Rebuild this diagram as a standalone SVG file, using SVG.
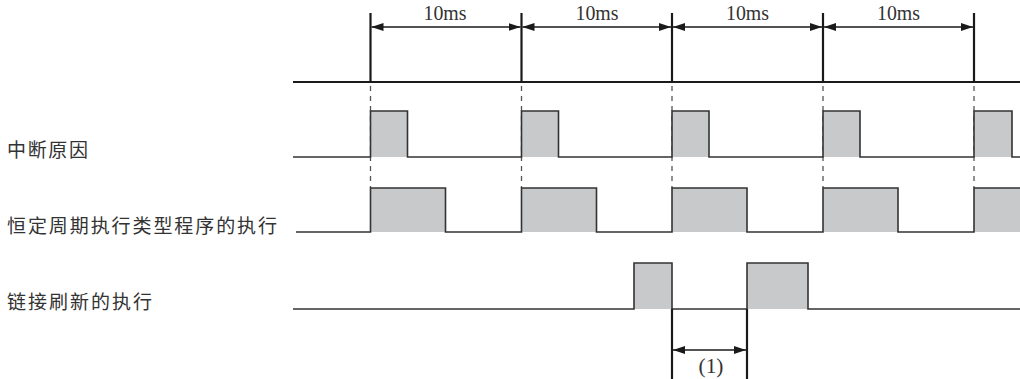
<svg xmlns="http://www.w3.org/2000/svg" width="1020" height="379" viewBox="0 0 1020 379">
<style>
.lbl{font-family:"Noto Sans CJK SC","Noto Sans",sans-serif;font-size:19px;fill:#333}
.dim{font-family:"Liberation Serif",serif;font-size:20px;fill:#333}
.thick{stroke:#1a1a1a;stroke-width:2.2;fill:none}
.wave{stroke:#333;stroke-width:1.6;fill:none}
.pf{fill:#c8c9cb;stroke:none}
.dash{stroke:#555;stroke-width:1.3;stroke-dasharray:5,5;fill:none}
.arr{stroke:#1a1a1a;stroke-width:1.3;fill:none;marker-start:url(#ah);marker-end:url(#ah)}
</style>
<defs>
<marker id="ah" viewBox="0 0 12 8" refX="12" refY="4" markerWidth="12" markerHeight="8" markerUnits="userSpaceOnUse" orient="auto-start-reverse">
<path d="M0,0 L12,4 L0,8 Z" fill="#1a1a1a"/>
</marker>
</defs>
<rect width="1020" height="379" fill="#fff"/>

<g id="timebase">
<line class="thick" x1="293" y1="82" x2="1020" y2="82"/>
<line class="thick" x1="370.5" y1="13" x2="370.5" y2="82"/>
<line class="thick" x1="521.5" y1="13" x2="521.5" y2="82"/>
<line class="thick" x1="672" y1="13" x2="672" y2="82"/>
<line class="thick" x1="823" y1="13" x2="823" y2="82"/>
<line class="thick" x1="974" y1="13" x2="974" y2="82"/>
<text class="dim" x="445" y="20" text-anchor="middle" textLength="43" lengthAdjust="spacingAndGlyphs">10ms</text>
<text class="dim" x="597" y="20" text-anchor="middle" textLength="43" lengthAdjust="spacingAndGlyphs">10ms</text>
<text class="dim" x="747.5" y="20" text-anchor="middle" textLength="43" lengthAdjust="spacingAndGlyphs">10ms</text>
<text class="dim" x="898.5" y="20" text-anchor="middle" textLength="43" lengthAdjust="spacingAndGlyphs">10ms</text>
</g>

<g id="guides">
<line class="dash" x1="370.5" y1="86" x2="370.5" y2="188"/>
<line class="dash" x1="521.5" y1="86" x2="521.5" y2="188"/>
<line class="dash" x1="672" y1="86" x2="672" y2="188"/>
<line class="dash" x1="823" y1="86" x2="823" y2="188"/>
<line class="dash" x1="974" y1="86" x2="974" y2="188"/>
</g>

<g id="interrupt">
<text class="lbl" x="7" y="157" textLength="81" lengthAdjust="spacing">中断原因</text>
<rect class="pf" x="370.5" y="111" width="37" height="46"/>
<rect class="pf" x="521.5" y="111" width="37" height="46"/>
<rect class="pf" x="672" y="111" width="37" height="46"/>
<rect class="pf" x="823" y="111" width="37" height="46"/>
<rect class="pf" x="974" y="111" width="38" height="46"/>
<polyline class="wave" points="293,157 370.5,157 370.5,111 407.5,111 407.5,157 521.5,157 521.5,111 558.5,111 558.5,157 672,157 672,111 709,111 709,157 823,157 823,111 860,111 860,157 974,157 974,111 1012,111 1012,157 1020,157"/>
</g>

<g id="cyclic">
<text class="lbl" x="7" y="233" textLength="270" lengthAdjust="spacing">恒定周期执行类型程序的执行</text>
<rect class="pf" x="370.5" y="188" width="75" height="44"/>
<rect class="pf" x="521.5" y="188" width="75" height="44"/>
<rect class="pf" x="672" y="188" width="75" height="44"/>
<rect class="pf" x="823" y="188" width="75" height="44"/>
<rect class="pf" x="974" y="188" width="46" height="44"/>
<polyline class="wave" points="296,232 370.5,232 370.5,188 445.5,188 445.5,232 521.5,232 521.5,188 596.5,188 596.5,232 672,232 672,188 747,188 747,232 823,232 823,188 898,188 898,232 974,232 974,188 1020,188"/>
</g>

<g id="linkrefresh">
<text class="lbl" x="7" y="309" textLength="145" lengthAdjust="spacing">链接刷新的执行</text>
<rect class="pf" x="634" y="263" width="38" height="46"/>
<rect class="pf" x="747" y="263" width="61" height="46"/>
<polyline class="wave" points="293,309 634,309 634,263 672,263 672,309 747,309 747,263 808,263 808,309 1020,309"/>
</g>

<g id="connectors">
<line class="arr" x1="371.5" y1="27" x2="520.5" y2="27"/>
<line class="arr" x1="522.5" y1="27" x2="671" y2="27"/>
<line class="arr" x1="673" y1="27" x2="822" y2="27"/>
<line class="arr" x1="824" y1="27" x2="973" y2="27"/>
<line class="thick" x1="672" y1="309" x2="672" y2="379"/>
<line class="thick" x1="747" y1="309" x2="747" y2="379"/>
<line class="arr" x1="673" y1="350" x2="746" y2="350"/>
<text class="dim" x="711" y="373" text-anchor="middle" font-size="20" textLength="25" lengthAdjust="spacingAndGlyphs">(1)</text>
</g>
</svg>
